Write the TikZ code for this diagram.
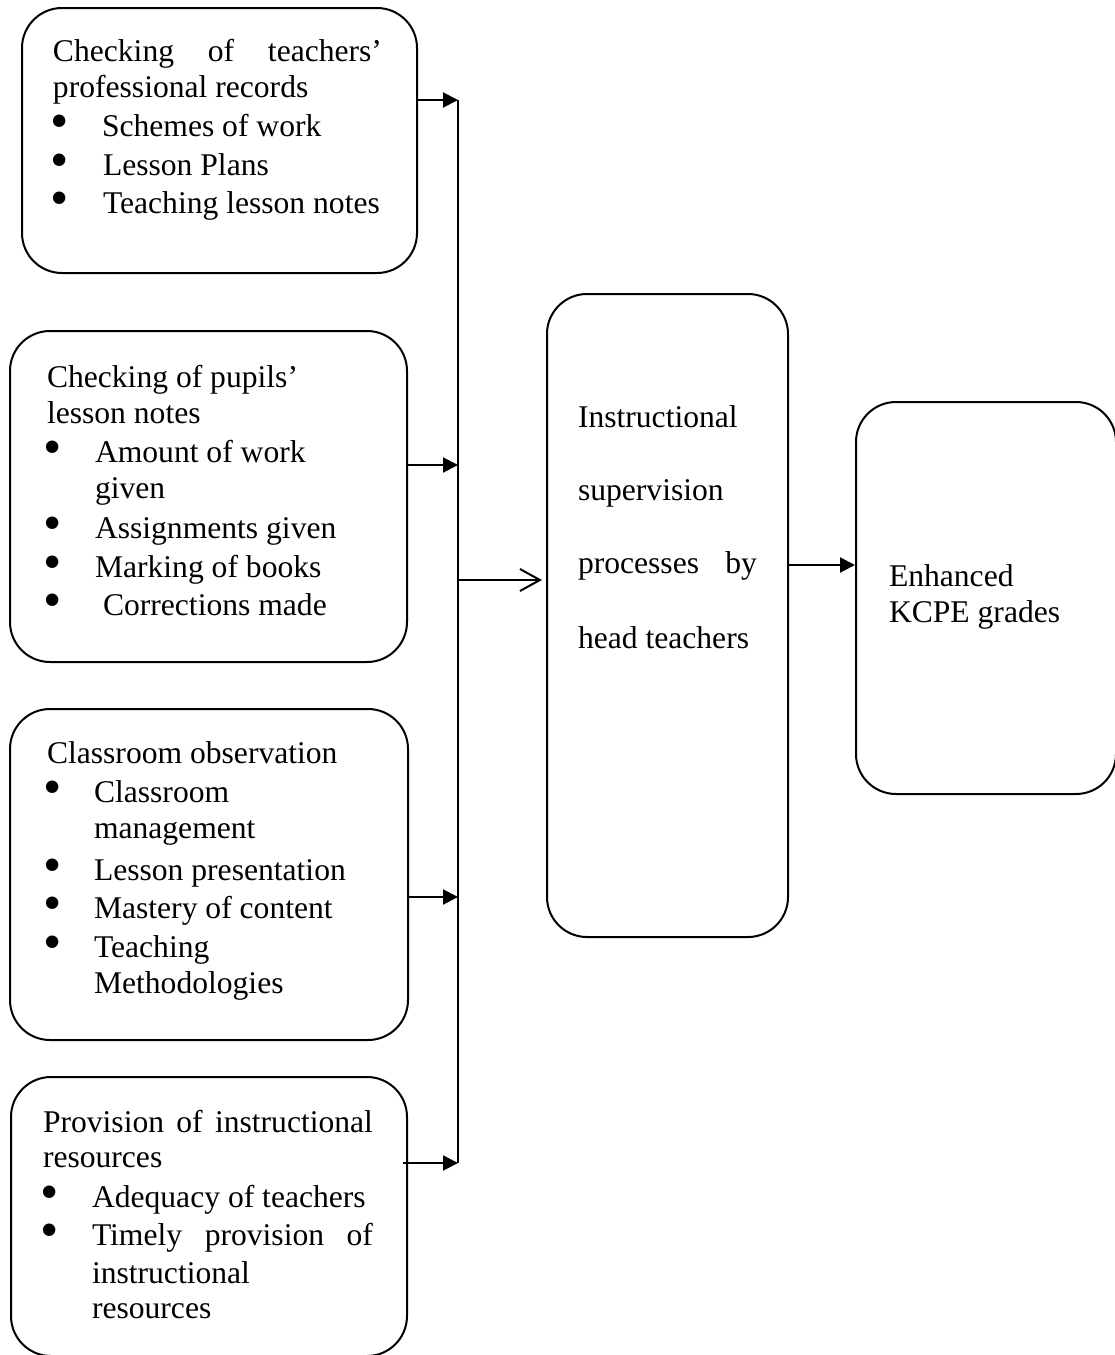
\documentclass[tikz,border=0pt]{standalone}
\usepackage{graphicx}
\usepackage{fontspec}
\setmainfont{Liberation Serif}
\usetikzlibrary{arrows.meta,fit}
\begin{document}
\begin{tikzpicture}[x=0.5pt,y=-0.5pt,
  frame/.style={draw, line width=1pt, rounded corners=20pt, inner sep=0pt},
  txt/.style={anchor=base west, inner sep=0pt, outer sep=0pt, font=\fontsize{15.8pt}{19pt}\selectfont},
  bul/.style={anchor=center, inner sep=0pt, outer sep=0pt, font=\fontsize{15.8pt}{15.8pt}\selectfont, yshift=4.75pt},
  conn/.style={line width=1pt},
  arr/.style={line width=1pt, -{Triangle[length=7.5pt,width=7.5pt]}},
  oarr/.style={line width=1pt, -{Straight Barb[length=10pt,width=11pt,line width=1pt]}}]
\useasboundingbox (0,0) rectangle (1114,1355);

% boxes
\node[frame, fit={(22,8) (417,273)}] (b1) {};
\node[frame, fit={(10,331) (407,662)}] (b2) {};
\node[frame, fit={(10,709) (408,1040)}] (b3) {};
\node[frame, fit={(11,1077) (407,1356)}] (b4) {};
\node[frame, fit={(547,294) (788,937)}] (mid) {};
\node[frame, fit={(856,402) (1116,794)}] (res) {};

% box 1 text
\node[txt] (t1a) at (53,61) {\makebox[164.5pt][s]{Checking of teachers’}};
\node[txt] (t1b) at (53,97) {professional records};
\node[bul] (u1a) at (60,136) {\scalebox{1.65}{•}};
\node[txt] (t1c) at (102,136) {Schemes of work};
\node[bul] (u1b) at (60,175) {\scalebox{1.65}{•}};
\node[txt] (t1d) at (103,175) {Lesson Plans};
\node[bul] (u1c) at (60,213) {\scalebox{1.65}{•}};
\node[txt] (t1e) at (103,213) {Teaching lesson notes};

% box 2 text
\node[txt] (t2a) at (47,387) {Checking of pupils’};
\node[txt] (t2b) at (47,423) {lesson notes};
\node[bul] (u2a) at (53,462) {\scalebox{1.65}{•}};
\node[txt] (t2c) at (95,462) {Amount of work};
\node[txt] (t2d) at (95,498) {given};
\node[bul] (u2b) at (53,538) {\scalebox{1.65}{•}};
\node[txt] (t2e) at (95,538) {Assignments given};
\node[bul] (u2c) at (53,577) {\scalebox{1.65}{•}};
\node[txt] (t2f) at (95,577) {Marking of books};
\node[bul] (u2d) at (53,615) {\scalebox{1.65}{•}};
\node[txt] (t2g) at (103,615) {Corrections made};

% box 3 text
\node[txt] (t3a) at (47,763) {Classroom observation};
\node[bul] (u3a) at (53,802) {\scalebox{1.65}{•}};
\node[txt] (t3b) at (94,802) {Classroom};
\node[txt] (t3c) at (94,838) {management};
\node[bul] (u3b) at (53,880) {\scalebox{1.65}{•}};
\node[txt] (t3d) at (94,880) {Lesson presentation};
\node[bul] (u3c) at (53,918) {\scalebox{1.65}{•}};
\node[txt] (t3e) at (94,918) {Mastery of content};
\node[bul] (u3d) at (53,957) {\scalebox{1.65}{•}};
\node[txt] (t3f) at (94,957) {Teaching};
\node[txt] (t3g) at (94,993) {Methodologies};

% box 4 text
\node[txt] (t4a) at (43,1132) {\makebox[165pt][s]{Provision of instructional}};
\node[txt] (t4b) at (43,1167) {resources};
\node[bul] (u4a) at (50,1207) {\scalebox{1.65}{•}};
\node[txt] (t4c) at (92,1207) {Adequacy of teachers};
\node[bul] (u4b) at (50,1245) {\scalebox{1.65}{•}};
\node[txt] (t4d) at (92,1245) {\makebox[140.5pt][s]{Timely provision of}};
\node[txt] (t4e) at (92,1283) {instructional};
\node[txt] (t4f) at (92,1318) {resources};

% middle box text
\node[txt] (tma) at (578,427) {Instructional};
\node[txt] (tmb) at (578,500) {supervision};
\node[txt] (tmc) at (578,573) {\makebox[89.5pt][s]{processes by}};
\node[txt] (tmd) at (578,648) {head teachers};

% result box text
\node[txt] (tra) at (889,586) {Enhanced};
\node[txt] (trb) at (889,622) {KCPE grades};

% connectors
\coordinate (j1) at (458,100);
\coordinate (j2) at (458,465);
\coordinate (j3) at (458,897);
\coordinate (j4) at (458,1163);
\coordinate (jm) at (458,580);
\coordinate (k4) at (403,1163);
\coordinate (km) at (788,565);

\draw[conn] (j1) -- (j4);
\draw[arr] (b1.east |- j1) -- (j1);
\draw[arr] (b2.east |- j2) -- (j2);
\draw[arr] (b3.east |- j3) -- (j3);
\draw[arr] (k4) -- (j4);
\draw[oarr] (jm) -- ([xshift=-2pt]mid.west |- jm);
\draw[arr] (km) -- (res.west |- km);
\end{tikzpicture}
\end{document}
